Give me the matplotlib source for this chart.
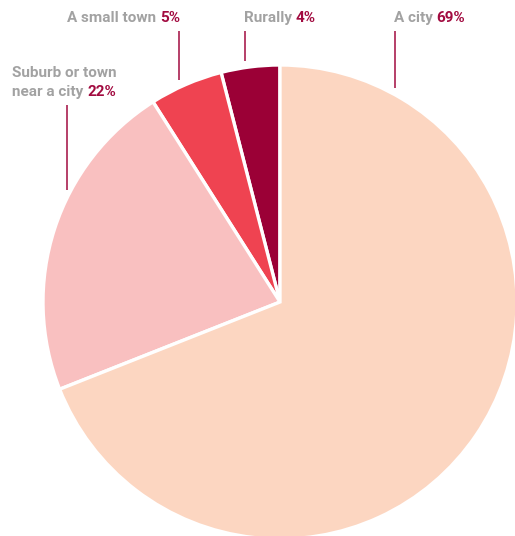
import matplotlib
matplotlib.use("Agg")
import matplotlib.pyplot as plt

# Where people live
categories = ["Rurally", "A small town", "Suburb or town\nnear a city", "A city"]
shares = [4, 5, 22, 69]
colors = ["#9B0036", "#EF4351", "#F9C0C0", "#FCD6C1"]

W, H = 515, 536
fig = plt.figure(figsize=(W / 100, H / 100), dpi=100)
ax = fig.add_axes([0, 0, 1, 1])

cx, cy, r = 280, H - 302, 237
wedges, _ = ax.pie(shares, colors=colors, startangle=90, counterclock=True,
                   center=(cx, cy), radius=r, frame=True,
                   wedgeprops=dict(edgecolor="white", linewidth=2.4))
ax.set_xlim(0, W)
ax.set_ylim(0, H)
ax.set_aspect("equal")
ax.axis("off")

gray = "#A2A2A2"
accent = "#A20B40"
fs = 11
fam = ["Roboto", "DejaVu Sans"]

fig.canvas.draw()
renderer = fig.canvas.get_renderer()


def two_tone(x, y, label, pct, ha="left"):
    """Draw 'label pct' with the label in gray and the value in accent colour."""
    t1 = ax.text(x, y, label + " ", color=gray, fontsize=fs, fontweight="bold",
                 family=fam, ha="left", va="baseline")
    t2 = ax.text(x, y, pct, color=accent, fontsize=fs, fontweight="bold",
                 family=fam, ha="left", va="baseline")
    w1 = t1.get_window_extent(renderer).width
    w2 = t2.get_window_extent(renderer).width
    inv = ax.transData.inverted()
    w1d = inv.transform((w1, 0))[0] - inv.transform((0, 0))[0]
    w2d = inv.transform((w2, 0))[0] - inv.transform((0, 0))[0]
    start = x - (w1d + w2d) if ha == "right" else x
    t1.set_x(start)
    t2.set_x(start + w1d)


def leader(x, y0, y1):
    ax.plot([x, x], [H - y0, H - y1], color=accent, lw=1.1, solid_capstyle="butt")


top_label, sub_label = categories[2].split("\n")
two_tone(180, H - 22, categories[1], f"{shares[1]}%", ha="right")
two_tone(244, H - 22, categories[0], f"{shares[0]}%")
two_tone(394, H - 22, categories[3], f"{shares[3]}%")
ax.text(12, H - 77, top_label, color=gray, fontsize=fs, fontweight="bold",
        family=fam, ha="left", va="baseline")
two_tone(12, H - 96, sub_label, f"{shares[2]}%")

leader(179, 31, 80)
leader(245, 31, 61)
leader(395, 31, 88)
leader(67, 105, 190)

fig.savefig("out.png", dpi=100, facecolor="white")
